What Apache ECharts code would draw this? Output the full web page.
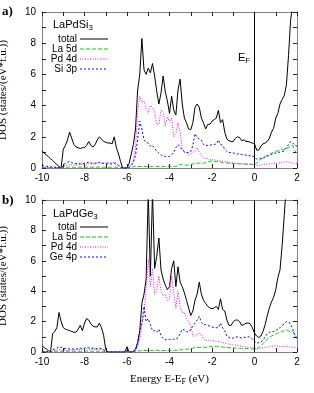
<!DOCTYPE html>
<html><head><meta charset="utf-8">
<script src="https://cdn.jsdelivr.net/npm/echarts@6/dist/echarts.min.js"></script>
<style>html,body{margin:0;padding:0;background:#fff}#c{width:314px;height:393px}</style>
</head><body><div id="c"></div><script>
// energy sampling grid: -10 .. 2 eV, step 0.1
const E_START = -10, E_STEP = 0.1, N_POINTS = 121;
const xTicks = [-10, -8, -6, -4, -2, 0, 2];
const yTicks = [0, 2, 4, 6, 8, 10];

// ---- panel a) LaPdSi3 ----
const aTotal = [1.1,0.95,0.85,0.72,0.6,0.48,0.35,0.22,0.1,0,
 1.2,1.45,1.8,2.3,1.9,1.5,1.35,1.3,1.25,1.3,
 1.3,1.45,1.7,1.45,1.35,1.5,1.8,2.0,1.85,1.7,
 1.65,1.6,1.6,1.55,2.0,1.3,0.9,0.4,0,0,
 0,0.3,0.9,1.5,2.5,5.0,6.0,8.3,6.3,6.0,
 6.4,6.1,6.7,5.9,4.9,4.1,4.8,5.9,4.9,4.3,
 3.5,4.6,3.7,3.4,5.0,5.7,4.1,3.2,2.9,2.5,
 2.45,2.9,3.9,4.1,3.9,3.2,2.9,2.5,2.8,2.8,
 3.0,3.1,3.2,3.7,2.9,3.1,2.3,1.85,1.75,1.7,
 1.7,1.9,2.0,1.95,1.75,1.8,1.7,1.7,1.65,1.6,
 1.55,1.15,1.15,1.4,1.55,1.6,1.7,1.9,2.3,2.55,
 3.2,3.5,4.1,4.4,4.65,5.3,7.2,9.5,10.5,11,
 11];
const aLa5d = [0.02,0.02,0.02,0.02,0.02,0.02,0.02,0.02,0.02,0,
 0.04,0.05,0.05,0.06,0.05,0.05,0.05,0.05,0.05,0.05,
 0.05,0.05,0.06,0.05,0.05,0.05,0.06,0.06,0.05,0.05,
 0.05,0.05,0.05,0.05,0.06,0.05,0.04,0.02,0,0,
 0,0.02,0.05,0.08,0.1,0.1,0.1,0.1,0.1,0.1,
 0.1,0.1,0.12,0.1,0.1,0.1,0.12,0.1,0.1,0.1,
 0.1,0.12,0.12,0.1,0.15,0.25,0.2,0.2,0.18,0.2,
 0.22,0.25,0.3,0.3,0.32,0.3,0.3,0.35,0.4,0.42,
 0.47,0.42,0.4,0.42,0.38,0.35,0.33,0.32,0.3,0.3,
 0.28,0.28,0.27,0.27,0.26,0.25,0.25,0.25,0.24,0.22,
 0.2,0.3,0.45,0.55,0.65,0.75,0.8,0.85,0.95,1.0,
 1.07,1.1,1.15,1.2,1.2,1.25,1.3,1.4,1.45,1.1,
 0.95];
const aPd4d = [0.05,0.05,0.04,0.03,0.03,0.02,0.02,0.01,0.01,0,
 0.1,0.15,0.2,0.22,0.2,0.18,0.2,0.2,0.22,0.22,
 0.25,0.25,0.3,0.25,0.25,0.28,0.3,0.32,0.3,0.3,
 0.32,0.33,0.35,0.33,0.38,0.3,0.2,0.1,0,0,
 0,0.05,0.2,0.5,1.2,3.6,4.6,4.2,4.3,3.8,
 3.5,4.0,3.9,3.6,2.8,2.8,3.7,3.6,2.7,3.3,
 3.0,3.2,2.0,2.2,2.9,2.3,1.3,1.0,0.95,0.85,
 0.9,1.0,1.1,1.3,1.0,0.85,0.65,0.6,0.6,0.55,
 0.53,0.52,0.5,0.48,0.46,0.44,0.42,0.4,0.38,0.35,
 0.32,0.3,0.28,0.27,0.26,0.25,0.25,0.25,0.25,0.24,
 0.2,0.15,0.17,0.2,0.22,0.24,0.25,0.26,0.27,0.28,
 0.3,0.32,0.34,0.36,0.38,0.4,0.38,0.35,0.3,0.3,
 0.3];
const aSi3p = [0.15,0.13,0.11,0.1,0.08,0.06,0.05,0.03,0.02,0,
 0.2,0.3,0.38,0.42,0.35,0.3,0.28,0.27,0.27,0.28,
 0.3,0.32,0.38,0.33,0.3,0.3,0.35,0.36,0.32,0.3,
 0.28,0.27,0.26,0.25,0.3,0.22,0.15,0.07,0,0,
 0,0.05,0.15,0.35,0.8,1.8,3.0,2.5,1.8,1.65,
 1.6,1.4,1.45,1.25,1.07,0.95,0.85,0.75,0.75,0.74,
 0.75,0.85,1.0,1.3,1.5,1.35,1.15,1.05,1.0,0.98,
 1.05,1.45,2.2,1.95,1.85,1.8,1.5,1.45,1.45,1.45,
 1.5,1.5,1.55,1.8,1.5,1.45,1.2,1.07,1.0,0.98,
 0.96,0.93,0.9,0.88,0.86,0.85,0.82,0.8,0.78,0.76,
 0.72,0.57,0.58,0.62,0.64,0.7,0.75,0.82,0.88,0.92,
 0.96,1.0,1.02,1.05,1.1,1.3,1.5,1.7,1.6,1.45,
 1.4];

// ---- panel b) LaPdGe3 ----
const bTotal = [0.4,0.3,0.2,0.1,0,1.2,1.35,1.6,2.6,2.0,
 1.6,1.5,1.45,1.4,1.35,1.3,1.3,1.5,1.75,1.4,
 1.9,2.2,2.1,1.85,1.7,1.65,1.65,1.9,1.6,1.1,
 0.15,0,0,0,0,0,0,0,0,0,
 0.35,0,0,0.05,0.2,0.6,1.4,3.2,3.8,4.8,
 10.5,5.0,10.5,5.5,6.3,7.5,5.4,4.8,4.4,4.1,
 4.3,5.5,6.0,4.3,5.6,4.6,4.3,3.9,3.4,2.9,
 2.4,2.7,3.4,3.8,4.6,3.8,3.4,3.2,3.0,2.9,
 2.85,2.9,3.0,2.8,3.5,2.8,2.7,2.1,1.75,1.75,
 2.0,2.1,2.1,2.0,1.75,1.8,1.9,1.9,1.85,1.6,
 1.25,1.05,0.95,1.05,1.35,1.8,2.4,2.9,3.3,3.6,
 4.1,4.9,5.4,7.0,9.0,11,11,11,11,11,
 11];
const bLa5d = [0.01,0.01,0,0,0,0.04,0.05,0.05,0.05,0.05,
 0.05,0.05,0.05,0.05,0.05,0.05,0.05,0.05,0.05,0.05,
 0.05,0.06,0.06,0.05,0.05,0.05,0.05,0.06,0.05,0.04,
 0,0,0,0,0,0,0,0,0,0,
 0,0,0,0,0,0.05,0.08,0.1,0.1,0.1,
 0.1,0.1,0.1,0.1,0.12,0.1,0.1,0.1,0.1,0.1,
 0.1,0.1,0.1,0.12,0.1,0.15,0.15,0.15,0.18,0.2,
 0.2,0.25,0.3,0.3,0.3,0.3,0.32,0.3,0.32,0.35,
 0.35,0.35,0.38,0.35,0.35,0.33,0.3,0.3,0.28,0.27,
 0.27,0.26,0.25,0.25,0.24,0.23,0.22,0.22,0.21,0.2,
 0.18,0.2,0.3,0.4,0.55,0.7,0.85,0.95,1.05,1.1,
 1.15,1.25,1.3,1.35,1.4,1.45,1.4,1.3,1.35,1.15,
 1.0];
const bPd4d = [0.02,0.01,0.01,0,0,0.08,0.1,0.12,0.15,0.13,
 0.12,0.12,0.12,0.13,0.13,0.14,0.14,0.15,0.16,0.15,
 0.17,0.2,0.19,0.17,0.16,0.16,0.17,0.18,0.17,0.12,
 0.02,0,0,0,0,0,0,0,0,0,
 0.05,0,0,0.02,0.05,0.3,0.9,1.7,2.5,4.2,
 6.1,4.3,5.5,3.8,4.1,5.0,4.0,3.7,3.8,3.4,
 3.5,5.0,3.9,2.9,4.0,3.0,2.6,2.6,2.2,2.0,
 1.7,1.05,1.05,1.15,1.25,1.15,0.85,0.75,0.75,0.8,
 0.75,0.72,0.7,0.68,0.65,0.6,0.58,0.55,0.52,0.5,
 0.48,0.45,0.43,0.4,0.38,0.35,0.33,0.3,0.3,0.28,
 0.25,0.2,0.22,0.25,0.28,0.3,0.32,0.35,0.37,0.4,
 0.4,0.38,0.37,0.36,0.37,0.36,0.35,0.33,0.3,0.3,
 0.3];
const bGe4p = [0.05,0.04,0.03,0.02,0,0.15,0.2,0.25,0.35,0.3,
 0.25,0.22,0.22,0.2,0.2,0.2,0.2,0.22,0.25,0.22,
 0.25,0.3,0.28,0.25,0.25,0.22,0.22,0.25,0.22,0.15,
 0.05,0,0,0,0,0,0,0,0,0,
 0.1,0,0,0.02,0.1,0.6,1.3,1.9,3.0,2.0,
 2.2,1.8,1.4,1.4,1.3,1.5,1.1,0.9,0.8,0.85,
 0.82,0.8,0.85,0.85,0.95,1.2,1.5,1.45,1.35,1.3,
 1.5,1.7,1.9,2.1,2.35,1.95,1.8,1.8,1.75,1.7,
 1.65,1.6,1.6,1.6,1.9,1.6,1.4,1.05,0.95,0.9,
 0.92,0.98,1.0,0.95,0.92,0.95,0.98,1.0,0.98,0.85,
 0.7,0.6,0.6,0.65,0.78,1.0,1.2,1.3,1.32,1.35,
 1.4,1.5,1.6,1.75,1.85,2.0,1.95,1.85,1.5,1.1,
 0.8];

const seriesNamesA = ['total', 'La 5d', 'Pd 4d', 'Si 3p'];
const seriesNamesB = ['total', 'La 5d', 'Pd 4d', 'Ge 4p'];

const SANS = 'Liberation Sans', SERIF = 'Liberation Serif';
const FRAME = '#808080', TICK = '#222';
const COLORS = ['#000000', '#00d000', '#ff00ff', '#0000ff'];
const DASHES = ['solid', [4, 2], [1, 1.5], [2, 2]];

function pairs(vals) {
  return vals.map((v, i) => [Math.round((E_START + i * E_STEP) * 10) / 10, v]);
}

function xAxesFor(grid, withName) {
  const base = {
    type: 'value', gridIndex: grid, min: -10, max: 2, interval: 2,
    axisLine: { show: true, onZero: false, lineStyle: { color: FRAME, width: 1 } },
    axisTick: { show: true, inside: true, length: 4, lineStyle: { color: TICK } },
    minorTick: { show: true, splitNumber: 2, length: 4, lineStyle: { color: TICK } },
    splitLine: { show: false }, minorSplitLine: { show: false }
  };
  return [
    Object.assign({}, base, {
      position: 'bottom',
      axisLabel: { color: '#000', fontFamily: SANS, fontSize: 10, margin: 5 },
      name: withName ? 'Energy E-E{sub|F} (eV)' : '',
      nameLocation: 'middle', nameGap: 20,
      nameTextStyle: { color: '#000', fontFamily: SERIF, fontSize: 11,
        rich: { sub: { fontFamily: SERIF, fontSize: 8, padding: [6, 0, 0, 0], color: '#000' } } }
    }),
    Object.assign({}, base, { position: 'top', axisLabel: { show: false } })
  ];
}
function yAxesFor(grid) {
  const base = {
    type: 'value', gridIndex: grid, min: 0, max: 10, interval: 2,
    axisLine: { show: true, onZero: false, lineStyle: { color: FRAME, width: 1 } },
    axisTick: { show: true, inside: true, length: 4, lineStyle: { color: TICK } },
    minorTick: { show: true, splitNumber: 2, length: 4, lineStyle: { color: TICK } },
    splitLine: { show: false }, minorSplitLine: { show: false }
  };
  return [
    Object.assign({}, base, {
      position: 'left',
      axisLabel: { color: '#000', fontFamily: SANS, fontSize: 10, margin: 6 },
      name: 'DOS (states/(eV*f.u.))', nameLocation: 'middle', nameGap: 33,
      nameTextStyle: { color: '#000', fontFamily: SERIF, fontSize: 11 }
    }),
    Object.assign({}, base, { position: 'right', axisLabel: { show: false } })
  ];
}

function panelSeries(grid, names, arrays) {
  return arrays.map((vals, k) => {
    const s = {
      type: 'line', name: names[k], xAxisIndex: grid * 2, yAxisIndex: grid * 2,
      data: pairs(vals), showSymbol: false, symbol: 'none', clip: true,
      lineStyle: { color: COLORS[k], width: 1, type: DASHES[k] },
      itemStyle: { color: COLORS[k] }, z: 2 + k, silent: true
    };
    if (k === 0) {
      s.markLine = { silent: true, symbol: ['none', 'none'], label: { show: false },
        lineStyle: { color: '#000', type: 'solid', width: 1 }, data: [{ xAxis: 0 }] };
    }
    return s;
  });
}

function legendGraphics(top, names) {
  const els = [];
  names.forEach((n, k) => {
    const y = top + k * 10;
    els.push({ type: 'text', x: 77, y: y, style: { text: n, fill: '#000',
      font: '10px "' + SANS + '"', align: 'right', verticalAlign: 'middle' } });
    els.push({ type: 'line', shape: { x1: 80, y1: y, x2: 108, y2: y },
      style: { stroke: COLORS[k], lineWidth: 1, lineDash: k === 0 ? null : DASHES[k] } });
  });
  return els;
}

const subRich = { sub: { fontSize: 8, fontFamily: SANS, padding: [6, 0, 0, 0], fill: '#000' } };

const option = {
  animation: false,
  backgroundColor: '#fff',
  grid: [
    { left: 42, top: 12, width: 255, height: 156, outerBoundsMode: 'none', containLabel: false },
    { left: 42, top: 200, width: 255, height: 152, outerBoundsMode: 'none', containLabel: false }
  ],
  xAxis: [...xAxesFor(0, false), ...xAxesFor(1, true)],
  yAxis: [...yAxesFor(0), ...yAxesFor(1)],
  series: [
    ...panelSeries(0, seriesNamesA, [aTotal, aLa5d, aPd4d, aSi3p]),
    ...panelSeries(1, seriesNamesB, [bTotal, bLa5d, bPd4d, bGe4p])
  ],
  graphic: [
    { type: 'text', x: 2, y: 12, style: { text: 'a)', fill: '#000', font: 'bold 13px "' + SERIF + '"', verticalAlign: 'middle' } },
    { type: 'text', x: 2, y: 201, style: { text: 'b)', fill: '#000', font: 'bold 13px "' + SERIF + '"', verticalAlign: 'middle' } },
    { type: 'text', x: 53, y: 25, style: { text: 'LaPdSi{sub|3}', rich: subRich, fill: '#000', font: '11px "' + SANS + '"', verticalAlign: 'middle' } },
    { type: 'text', x: 53, y: 214, style: { text: 'LaPdGe{sub|3}', rich: subRich, fill: '#000', font: '11px "' + SANS + '"', verticalAlign: 'middle' } },
    { type: 'text', x: 238, y: 58, style: { text: 'E{sub|F}', rich: subRich, fill: '#000', font: '11px "' + SANS + '"', verticalAlign: 'middle' } },
    ...legendGraphics(39, seriesNamesA),
    ...legendGraphics(227, seriesNamesB)
  ]
};

const chart = echarts.init(document.getElementById('c'), null, { renderer: 'canvas' });
chart.setOption(option);
</script></body></html>
